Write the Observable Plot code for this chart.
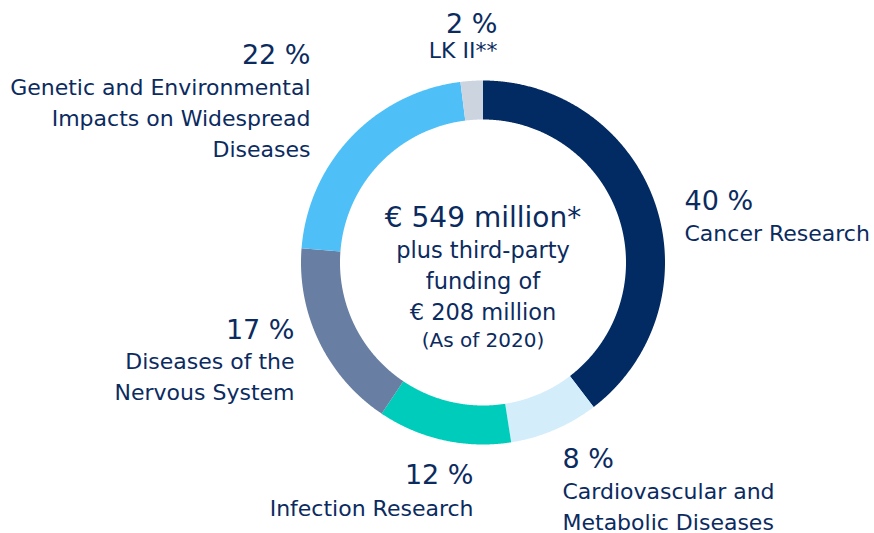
<!DOCTYPE html>
<html>
<head>
<meta charset="utf-8">
<script src="https://cdn.jsdelivr.net/npm/d3@7"></script>
<script src="https://cdn.jsdelivr.net/npm/@observablehq/plot@0.6"></script>
<style>
  html, body { margin: 0; padding: 0; background: #ffffff; }
  #chart { width: 874px; height: 533px; }
</style>
</head>
<body>
<div id="chart"></div>
<script>
// ---- data ----
const categories = [
  "Cancer Research",
  "Cardiovascular and Metabolic Diseases",
  "Infection Research",
  "Diseases of the Nervous System",
  "Genetic and Environmental Impacts on Widespread Diseases",
  "LK II**"
];
const shares = [40, 8, 12, 17, 22, 2];
const shareLabels = ["40 %", "8 %", "12 %", "17 %", "22 %", "2 %"];
const labelLines = [
  ["Cancer Research"],
  ["Cardiovascular and", "Metabolic Diseases"],
  ["Infection Research"],
  ["Diseases of the", "Nervous System"],
  ["Genetic and Environmental", "Impacts on Widespread", "Diseases"],
  ["LK II**"]
];
const centerLines = ["€ 549 million*", "plus third-party", "funding of", "€ 208 million", "(As of 2020)"];

// ---- styles / layout ----
const sliceColors = ["#032b63", "#d3edfb", "#00ccbc", "#687ea3", "#4fc0f7", "#ccd4df"];
const textColor = "#0b2b5f";
const W = 874, H = 533;
const cx = 482.5, cy = 262;
const outerR = 182, innerR = 143;
// label placement in pixels: x, anchor, baseline of percentage, baseline of first body line
const labelLayout = [
  {x: 684, anchor: "start", pctY: 209, bodyY: 240},
  {x: 562, anchor: "start", pctY: 467, bodyY: 498},
  {x: 473, anchor: "end",   pctY: 483, bodyY: 515},
  {x: 294, anchor: "end",   pctY: 338, bodyY: 368},
  {x: 310, anchor: "end",   pctY: 63,  bodyY: 94},
  {x: 497, anchor: "end",   pctY: 32,  bodyY: 57}
];
const bodyLineGap = 31;
const centerLayout = [
  {y: 226, size: 28},
  {y: 257, size: 22.5},
  {y: 288, size: 22.5},
  {y: 319, size: 22.5},
  {y: 346, size: 20}
];

// ---- build slice polygons from the shares ----
const rows = categories.map((name, i) => ({name, share: shares[i]}));
const arcs = d3.pie().sort(null).value(d => d.share).startAngle(0).endAngle(2 * Math.PI)(rows);
const pts = [];
for (const a of arcs) {
  const n = Math.max(2, Math.ceil((a.endAngle - a.startAngle) / 0.005) + 1);
  for (let k = 0; k < n; k++) {
    const t = a.startAngle + (a.endAngle - a.startAngle) * k / (n - 1);
    pts.push({name: a.data.name, x: outerR * Math.sin(t), y: -outerR * Math.cos(t)});
  }
  for (let k = n - 1; k >= 0; k--) {
    const t = a.startAngle + (a.endAngle - a.startAngle) * k / (n - 1);
    pts.push({name: a.data.name, x: innerR * Math.sin(t), y: -innerR * Math.cos(t)});
  }
}

// ---- text rows ----
const pctRows = categories.map((name, i) => ({
  text: shareLabels[i], x: labelLayout[i].x - cx, y: labelLayout[i].pctY - cy, anchor: labelLayout[i].anchor
}));
const bodyRows = [];
categories.forEach((name, i) => {
  labelLines[i].forEach((line, j) => {
    bodyRows.push({text: line, x: labelLayout[i].x - cx, y: labelLayout[i].bodyY + j * bodyLineGap - cy, anchor: labelLayout[i].anchor});
  });
});
const centerRows = centerLines.map((t, i) => ({text: t, x: 0, y: centerLayout[i].y - cy, size: centerLayout[i].size}));

const textMarks = [];
for (const anchor of ["start", "end"]) {
  textMarks.push(Plot.text(pctRows.filter(d => d.anchor === anchor), {
    x: "x", y: "y", text: "text", textAnchor: anchor, lineAnchor: "bottom",
    fontSize: 27, fill: textColor
  }));
  textMarks.push(Plot.text(bodyRows.filter(d => d.anchor === anchor), {
    x: "x", y: "y", text: "text", textAnchor: anchor, lineAnchor: "bottom",
    fontSize: 22, fill: textColor
  }));
}
for (const r of centerRows) {
  textMarks.push(Plot.text([r], {
    x: "x", y: "y", text: "text", textAnchor: "middle", lineAnchor: "bottom",
    fontSize: r.size, fill: textColor
  }));
}

const chart = Plot.plot({
  width: W,
  height: H,
  margin: 0,
  x: {domain: [-cx, W - cx], range: [0, W], axis: null},
  y: {domain: [-cy, H - cy], range: [0, H], axis: null},
  color: {domain: categories, range: sliceColors},
  style: {fontFamily: "'DejaVu Sans', sans-serif", background: "#ffffff", color: textColor},
  marks: [
    Plot.line(pts, {x: "x", y: "y", z: "name", fill: "name", stroke: "none", curve: "linear-closed"}),
    ...textMarks
  ]
});
document.getElementById("chart").appendChild(chart);
</script>
</body>
</html>
